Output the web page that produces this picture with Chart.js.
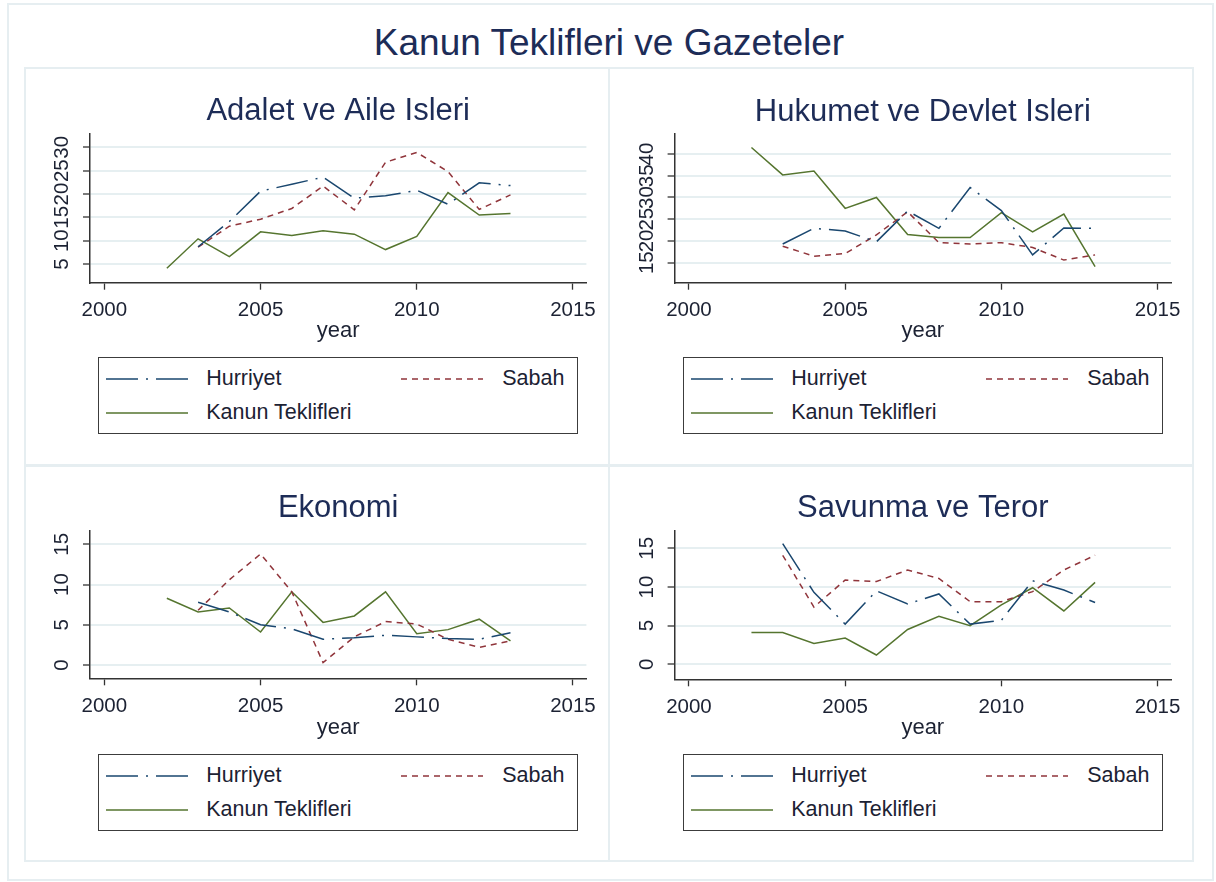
<!DOCTYPE html>
<html>
<head>
<meta charset="utf-8">
<title>Kanun Teklifleri ve Gazeteler</title>
<script src="https://cdn.jsdelivr.net/npm/chart.js@4.4.0/dist/chart.umd.min.js"></script>
<style>
  html, body { margin: 0; padding: 0; background: #fff; }
  body { width: 1216px; height: 882px; position: relative; overflow: hidden;
         font-family: "Liberation Sans", Arial, sans-serif; }
  .frame { position: absolute; border: 2px solid #e6eef1; box-sizing: border-box; }
  .main_title { position: absolute; left: 0; width: 1218px; top: 24px; text-align: center;
                font-size: 37px; line-height: 1; color: #1d2c57; }
  .panel_canvas { position: absolute; }
  .legend_box { position: absolute; width: 480px; height: 77px; border: 1.5px solid #3c3c3c;
                box-sizing: border-box; background: #fff; }
  .legend_box svg { position: absolute; overflow: visible; }
  .legend_box span { position: absolute; font-size: 21.5px; line-height: 1; color: #1c2233; white-space: nowrap; }
</style>
</head>
<body>

<div class="frame" style="left:7px;top:3px;width:1207px;height:878px"></div>
<div class="frame" style="left:24px;top:67px;width:586px;height:400px"></div>
<div class="frame" style="left:608px;top:67px;width:586px;height:400px"></div>
<div class="frame" style="left:24px;top:464px;width:586px;height:398px"></div>
<div class="frame" style="left:608px;top:464px;width:586px;height:398px"></div>

<div class="main_title">Kanun Teklifleri ve Gazeteler</div>

<canvas id="panel_chart1" class="panel_canvas" width="584" height="270" style="left:25px;top:80px"></canvas>
<canvas id="panel_chart2" class="panel_canvas" width="584" height="270" style="left:609px;top:80px"></canvas>
<canvas id="panel_chart3" class="panel_canvas" width="584" height="270" style="left:25px;top:477px"></canvas>
<canvas id="panel_chart4" class="panel_canvas" width="584" height="270" style="left:609px;top:477px"></canvas>

<div id="legend1" class="legend_box" style="left:98px;top:357px"></div>
<div id="legend2" class="legend_box" style="left:683px;top:357px"></div>
<div id="legend3" class="legend_box" style="left:98px;top:754px"></div>
<div id="legend4" class="legend_box" style="left:683px;top:754px"></div>

<script>
// yillar ve seriler
var years = [2002, 2003, 2004, 2005, 2006, 2007, 2008, 2009, 2010, 2011, 2012, 2013];
var x_ticks = [2000, 2005, 2010, 2015];
var series_names = ['Hurriyet', 'Sabah', 'Kanun Teklifleri'];
var panel_titles = ['Adalet ve Aile Isleri', 'Hukumet ve Devlet Isleri', 'Ekonomi', 'Savunma ve Teror'];
var x_title = 'year';

// Adalet ve Aile Isleri
var hurriyet_adalet = [null, 8.7, 14.1, 20.6, 22.1, 23.6, 19.1, 19.6, 20.8, 17.8, 22.4, 21.8];
var sabah_adalet    = [null, 8.6, 13.1, 14.6, 16.9, 21.7, 16.6, 26.8, 28.9, 24.8, 16.7, 19.8];
var kanun_adalet    = [4.1, 10.4, 6.6, 11.9, 11.1, 12.1, 11.4, 8.1, 10.9, 20.3, 15.5, 15.8];
var y_ticks_adalet  = [5, 10, 15, 20, 25, 30];

// Hukumet ve Devlet Isleri
var hurriyet_hukumet = [null, 19.3, 22.9, 22.3, 19.8, 26.9, 22.9, 32.3, 27.0, 16.8, 23.0, 22.9];
var sabah_hukumet    = [null, 18.8, 16.5, 17.1, 21.4, 26.7, 19.6, 19.3, 19.6, 18.5, 15.6, 16.8];
var kanun_hukumet    = [41.5, 35.2, 36.1, 27.5, 30.0, 21.5, 20.8, 20.8, 26.5, 22.1, 26.2, 14.1];
var y_ticks_hukumet  = [15, 20, 25, 30, 35, 40];

// Ekonomi
var hurriyet_ekonomi = [null, 7.8, 6.6, 5.0, 4.5, 3.2, 3.4, 3.7, 3.5, 3.3, 3.2, 4.0];
var sabah_ekonomi    = [null, 6.8, 10.6, 13.8, 9.1, 0.3, 3.5, 5.4, 5.1, 3.2, 2.2, 3.0];
var kanun_ekonomi    = [8.3, 6.6, 7.1, 4.1, 9.1, 5.3, 6.1, 9.1, 3.9, 4.4, 5.7, 3.0];
var y_ticks_ekonomi  = [0, 5, 10, 15];

// Savunma ve Teror
var hurriyet_savunma = [null, 15.6, 9.3, 5.2, 9.5, 7.8, 9.1, 5.2, 5.7, 10.8, 9.6, 8.0];
var sabah_savunma    = [null, 14.1, 7.4, 10.9, 10.7, 12.2, 11.1, 8.1, 8.1, 9.4, 12.2, 14.1];
var kanun_savunma    = [4.1, 4.1, 2.7, 3.4, 1.2, 4.5, 6.2, 5.0, 7.7, 9.9, 6.9, 10.6];
var y_ticks_savunma  = [0, 5, 10, 15];

var series_colors = ['#1a476f', '#90353b', '#55752f'];
var series_dash = [[32, 8, 2, 8], [6, 5], []];
var text_color = '#1c2233';
var title_color = '#1d2c57';
var axis_color = '#333333';
var grid_color = '#e6eff1';

Chart.defaults.font.family = '"Liberation Sans", Arial, sans-serif';

function to_points(values) {
    return years.map(function (yr, i) { return { x: yr, y: values[i] }; });
}

function make_panel(canvas_id, title, series, y_ticks, y_min, y_max, geo) {
    var datasets = [];
    for (var i = 0; i < series.length; i++) {
        datasets.push({
            label: series_names[i],
            data: to_points(series[i]),
            borderColor: series_colors[i],
            backgroundColor: series_colors[i],
            borderWidth: 1.5,
            borderDash: series_dash[i],
            pointRadius: 0,
            fill: false,
            tension: 0
        });
    }
    return new Chart(document.getElementById(canvas_id), {
        type: 'line',
        data: { datasets: datasets },
        options: {
            responsive: false,
            animation: false,
            layout: {
                padding: { left: 0, right: geo.pad_right, top: geo.pad_top, bottom: 0 }
            },
            plugins: {
                legend: { display: false },
                tooltip: { enabled: false },
                title: {
                    display: true,
                    text: title,
                    fullSize: false,
                    color: title_color,
                    font: { size: 31, weight: 'normal' },
                    padding: { top: 12.9, bottom: 3.2 }
                }
            },
            scales: {
                x: {
                    type: 'linear',
                    min: 1999.54,
                    max: 2015.43,
                    afterBuildTicks: function (axis) {
                        axis.ticks = x_ticks.map(function (v) { return { value: v }; });
                    },
                    afterFit: function (axis) { axis.height = geo.x_height; },
                    ticks: {
                        autoSkip: false,
                        maxRotation: 0,
                        padding: 8.5,
                        color: text_color,
                        font: { size: 20.5 },
                        callback: function (value) { return String(value); }
                    },
                    grid: {
                        drawOnChartArea: false,
                        drawTicks: true,
                        tickLength: 7,
                        tickColor: axis_color,
                        tickWidth: 1.3
                    },
                    border: { display: true, color: axis_color, width: 1.5 },
                    title: {
                        display: true,
                        text: x_title,
                        color: text_color,
                        font: { size: 22 },
                        padding: { top: 0, bottom: 5.9 }
                    }
                },
                y: {
                    type: 'linear',
                    min: y_min,
                    max: y_max,
                    afterBuildTicks: function (axis) {
                        axis.ticks = y_ticks.map(function (v) { return { value: v }; });
                    },
                    afterFit: function (axis) { axis.width = geo.y_width; },
                    ticks: {
                        autoSkip: false,
                        minRotation: 90,
                        maxRotation: 90,
                        crossAlign: 'center',
                        padding: 9,
                        color: text_color,
                        font: { size: 20.5 },
                        callback: function (value) { return String(value); }
                    },
                    grid: {
                        color: grid_color,
                        lineWidth: 2,
                        drawTicks: true,
                        tickLength: 7,
                        tickColor: axis_color,
                        tickWidth: 1.3
                    },
                    border: { display: true, color: axis_color, width: 1.5 }
                }
            }
        }
    });
}

function make_legend(box_id) {
    var box = document.getElementById(box_id);
    // Hurriyet ve Sabah ust satirda, Kanun Teklifleri alt satirda
    var slots = [
        { sx: 7.2, tx: 107.2, ly: 20.8, ty: 10 },
        { sx: 302.2, tx: 403.2, ly: 20.8, ty: 10 },
        { sx: 7.2, tx: 107.2, ly: 54.8, ty: 43.5 }
    ];
    var html = '';
    for (var i = 0; i < series_names.length; i++) {
        var s = slots[i];
        html += '<svg width="82" height="4" style="left:' + s.sx + 'px;top:' + (s.ly - 2) + 'px">' +
            '<line x1="0" y1="2" x2="82" y2="2" stroke="' + series_colors[i] + '" stroke-width="1.5"' +
            (series_dash[i].length ? ' stroke-dasharray="' + series_dash[i].join(' ') + '"' : '') + '/></svg>';
        html += '<span style="left:' + s.tx + 'px;top:' + s.ty + 'px">' + series_names[i] + '</span>';
    }
    box.innerHTML = html;
}

var panel_chart1 = make_panel('panel_chart1', panel_titles[0],
    [hurriyet_adalet, sabah_adalet, kanun_adalet], y_ticks_adalet, 1.0, 33.0,
    { pad_right: 22.6, pad_top: 0, x_height: 67.3, y_width: 65 });

var panel_chart2 = make_panel('panel_chart2', panel_titles[1],
    [hurriyet_hukumet, sabah_hukumet, kanun_hukumet], y_ticks_hukumet, 10.4, 44.6,
    { pad_right: 22, pad_top: 0.7, x_height: 67.3, y_width: 65.6 });

var panel_chart3 = make_panel('panel_chart3', panel_titles[2],
    [hurriyet_ekonomi, sabah_ekonomi, kanun_ekonomi], y_ticks_ekonomi, -1.65, 16.7,
    { pad_right: 22.6, pad_top: 0.4, x_height: 68.7, y_width: 65 });

var panel_chart4 = make_panel('panel_chart4', panel_titles[3],
    [hurriyet_savunma, sabah_savunma, kanun_savunma], y_ticks_savunma, -1.94, 17.28,
    { pad_right: 22, pad_top: 0.4, x_height: 67.7, y_width: 65.6 });

make_legend('legend1');
make_legend('legend2');
make_legend('legend3');
make_legend('legend4');
</script>
</body>
</html>
